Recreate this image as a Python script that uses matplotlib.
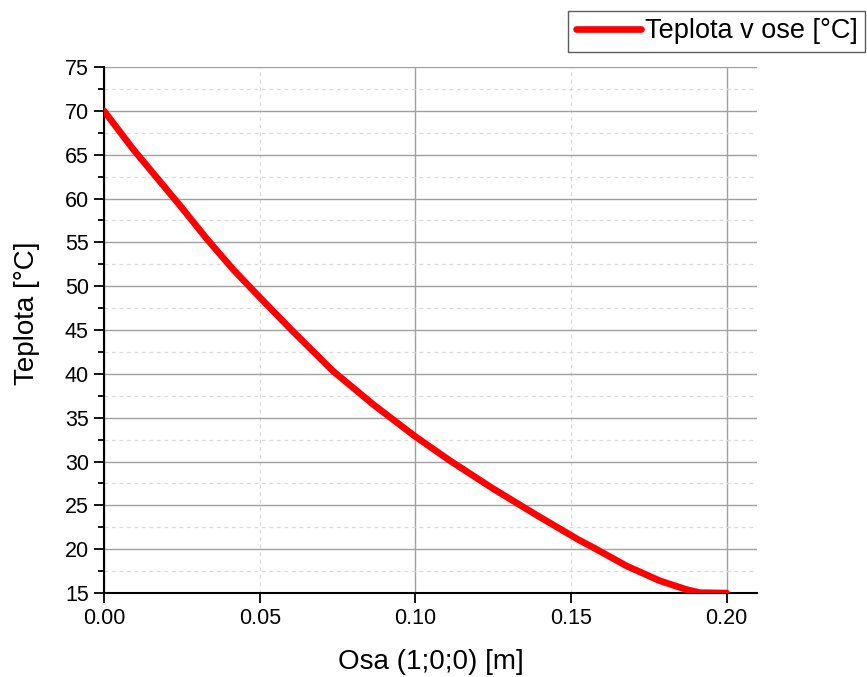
import numpy as np
import matplotlib
matplotlib.use("Agg")
import matplotlib.pyplot as plt
from matplotlib.ticker import MultipleLocator, FormatStrFormatter

plt.rcParams["font.family"] = ["Liberation Sans", "DejaVu Sans"]

# values
osa = [0.0, 0.0019, 0.0094, 0.0169, 0.0244, 0.033, 0.0415, 0.049, 0.0608,
       0.0736, 0.0865, 0.0998, 0.1111, 0.125, 0.1389, 0.1523, 0.1571, 0.1678,
       0.1785, 0.1871, 0.1913, 0.2]
teplota = [70.0, 69.1, 65.6, 62.4, 59.2, 55.4, 51.9, 49.1, 44.8,
           40.3, 36.5, 32.9, 30.1, 26.9, 23.9, 21.1, 20.2, 18.1,
           16.4, 15.4, 15.05, 15.0]

fig = plt.figure(figsize=(8.67, 6.77), dpi=100)
ax = fig.add_axes([0.12, 0.124, 0.753, 0.777])

ax.plot(osa, teplota, color="red", linewidth=4.8, solid_capstyle="round",
        solid_joinstyle="round", label="Teplota v ose [°C]", zorder=3)

ax.set_xlim(0, 0.2097)
ax.set_ylim(15, 75)

# x: labelled ticks every 0.05, solid grid every 0.1, dashed in between
ax.xaxis.set_major_locator(MultipleLocator(0.1))
ax.xaxis.set_minor_locator(MultipleLocator(0.05))
ax.xaxis.set_major_formatter(FormatStrFormatter("%.2f"))
ax.xaxis.set_minor_formatter(FormatStrFormatter("%.2f"))
ax.yaxis.set_major_locator(MultipleLocator(5))
ax.yaxis.set_minor_locator(MultipleLocator(2.5))

ax.tick_params(axis="both", which="major", direction="out", length=7, width=1.3,
               labelsize=15.5, pad=4)
ax.tick_params(axis="x", which="minor", direction="out", length=7, width=1.3,
               labelsize=15.5, pad=4)
ax.tick_params(axis="y", which="minor", direction="out", length=4, width=1.3)

ax.grid(which="major", color="#a0a0a0", linewidth=1.0, linestyle="-")
ax.grid(which="minor", color="#dadada", linewidth=0.9, linestyle=(0, (3, 3)))
ax.set_axisbelow(True)

for s in ["top", "right"]:
    ax.spines[s].set_visible(False)
for s in ["left", "bottom"]:
    ax.spines[s].set_linewidth(1.5)

ax.set_xlabel("Osa (1;0;0) [m]", fontsize=20, labelpad=14)
ax.set_ylabel("Teplota [°C]", fontsize=20)
ax.yaxis.set_label_coords(-0.098, 0.532)

leg = fig.legend(loc="upper right", bbox_to_anchor=(0.998, 0.984), fontsize=19.5,
                 frameon=True, fancybox=False, edgecolor="#333333",
                 handlelength=2.4, handletextpad=0.15, borderpad=0.28,
                 borderaxespad=0.0)
leg.get_frame().set_linewidth(1.0)

fig.savefig("out.png", dpi=100)
